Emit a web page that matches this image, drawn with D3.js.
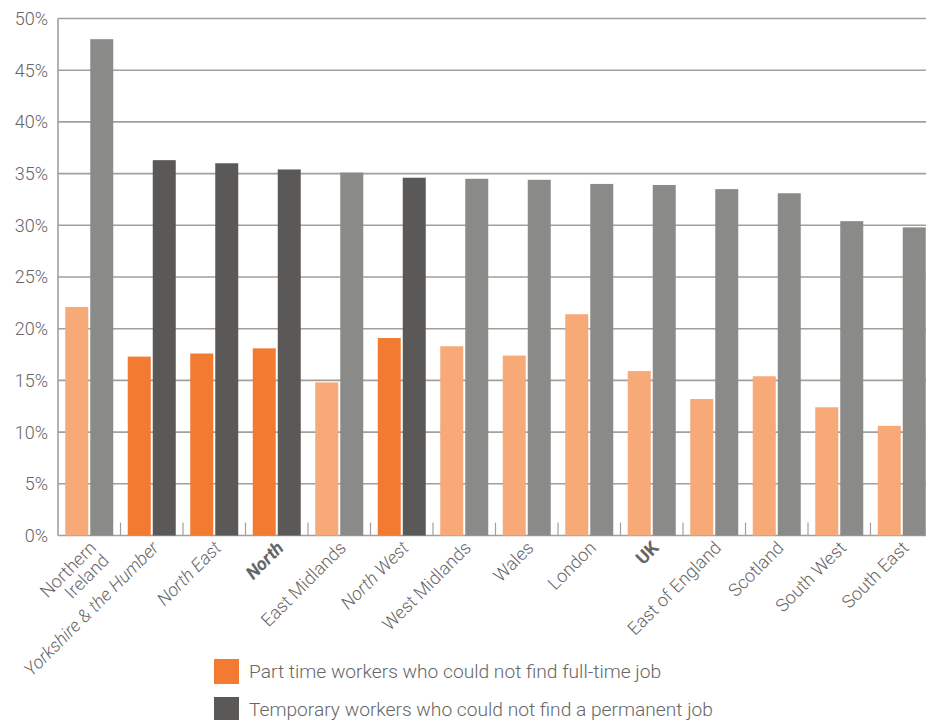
<!DOCTYPE html>
<html>
<head>
<meta charset="utf-8">
<script src="https://cdn.jsdelivr.net/npm/d3@7"></script>
<style>
  html, body { margin: 0; padding: 0; background: #fff; }
  svg text { font-family: Roboto, "Liberation Sans", sans-serif; font-weight: 300; fill: #666; }
</style>
</head>
<body>
<svg id="chart" width="926" height="720"></svg>
<script>
// Regions, ordered by share of temporary workers who could not find a permanent job
const regions = ["Northern Ireland", "Yorkshire & the Humber", "North East", "North", "East Midlands",
  "North West", "West Midlands", "Wales", "London", "UK", "East of England", "Scotland",
  "South West", "South East"];
const partTime = [22.1, 17.3, 17.6, 18.1, 14.8, 19.1, 18.3, 17.4, 21.4, 15.9, 13.2, 15.4, 12.4, 10.6];
const temporary = [48.0, 36.3, 36.0, 35.4, 35.1, 34.6, 34.5, 34.4, 34.0, 33.9, 33.5, 33.1, 30.4, 29.8];
const northernRegions = ["Yorkshire & the Humber", "North East", "North", "North West"];
const boldRegions = ["North", "UK"];
const yTicks = [0, 5, 10, 15, 20, 25, 30, 35, 40, 45, 50];
const seriesNames = ["Part time workers who could not find full-time job",
  "Temporary workers who could not find a permanent job"];

const colours = {
  partLight: "#f7a977", partDark: "#f27a31",
  tempLight: "#8a8a88", tempDark: "#5b5957",
  grid: "#a69e98", text: "#666666"
};

const svg = d3.select("#chart");
const plotLeft = 58, plotRight = 933, plotTop = 18.5, plotBottom = 535.5;

const x = d3.scaleBand().domain(regions).range([plotLeft, plotRight]).padding(0);
const xs = d3.scaleBand().domain(["part", "temp"]).range([0, x.bandwidth()])
  .paddingInner(0.08).paddingOuter(0.29);
const y = d3.scaleLinear().domain([0, 50]).range([plotBottom, plotTop]);

// horizontal gridlines
svg.append("g").selectAll("line").data(yTicks).join("line")
  .attr("x1", plotLeft).attr("x2", 926)
  .attr("y1", d => y(d)).attr("y2", d => y(d))
  .attr("stroke", colours.grid).attr("stroke-width", 1.6);

// left axis line
svg.append("line").attr("x1", plotLeft).attr("x2", plotLeft).attr("y1", plotTop).attr("y2", plotBottom)
  .attr("stroke", colours.grid).attr("stroke-width", 1.6);

// y tick labels
svg.append("g").selectAll("text").data(yTicks).join("text")
  .attr("x", 48).attr("y", d => y(d)).attr("dy", "0.36em")
  .attr("text-anchor", "end").style("font-size", "18px")
  .text(d => d + "%");

const rows = regions.map((r, i) => ({ region: r, part: partTime[i], temp: temporary[i],
  north: northernRegions.includes(r) }));

// bars
const groups = svg.append("g").selectAll("g").data(rows).join("g")
  .attr("transform", d => `translate(${x(d.region)},0)`);
groups.append("rect")
  .attr("x", xs("part")).attr("width", xs.bandwidth())
  .attr("y", d => y(d.part)).attr("height", d => y(0) - y(d.part))
  .attr("fill", d => d.north ? colours.partDark : colours.partLight);
groups.append("rect")
  .attr("x", xs("temp")).attr("width", xs.bandwidth())
  .attr("y", d => y(d.temp)).attr("height", d => y(0) - y(d.temp))
  .attr("fill", d => d.north ? colours.tempDark : colours.tempLight);

// category separators along the baseline
svg.append("g").selectAll("line").data(regions.slice(1)).join("line")
  .attr("x1", d => x(d)).attr("x2", d => x(d))
  .attr("y1", plotBottom - 13).attr("y2", plotBottom)
  .attr("stroke", colours.grid).attr("stroke-width", 1.2);

// rotated category labels
const labels = svg.append("g").selectAll("text").data(rows).join("text")
  .attr("transform", d => `translate(${x(d.region) + x.bandwidth() / 2 + 8},549) rotate(-45)`)
  .attr("text-anchor", "end").style("font-size", "18px")
  .style("font-style", d => d.north ? "italic" : "normal")
  .style("font-weight", d => boldRegions.includes(d.region) ? 700 : 300);
labels.each(function(d) {
  const t = d3.select(this);
  if (d.region === "Northern Ireland") {
    t.append("tspan").attr("x", 0).attr("dy", 0).text("Northern");
    t.append("tspan").attr("x", 0).attr("dy", "1.0em").text("Ireland");
  } else {
    t.text(d.region);
  }
});

// legend
const legend = svg.append("g").selectAll("g").data(seriesNames).join("g")
  .attr("transform", (d, i) => `translate(214,${659 + i * 38})`);
legend.append("rect").attr("width", 25).attr("height", 25)
  .attr("fill", (d, i) => i === 0 ? colours.partDark : colours.tempDark);
legend.append("text").attr("x", 35).attr("y", 12.5).attr("dy", "0.36em")
  .style("font-size", "19.2px").text(d => d);
</script>
</body>
</html>
